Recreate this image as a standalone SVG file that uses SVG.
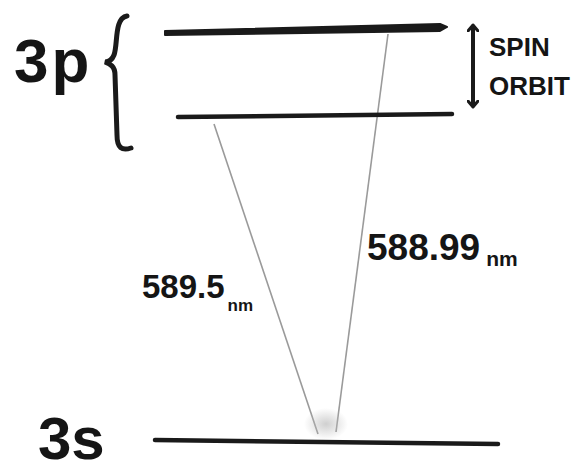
<svg xmlns="http://www.w3.org/2000/svg" width="580" height="475" viewBox="0 0 580 475">
<style>
.lvl{stroke:#1a1a1a;fill:none;stroke-linecap:round}
.ink{fill:#151515;font-family:"Liberation Sans",Arial,sans-serif;font-weight:bold}
.tr{stroke:#9a9a9a;stroke-width:1.6;fill:none}
</style>
<defs>
<marker id="ah" viewBox="0 0 12 12" refX="6" refY="6" markerWidth="12" markerHeight="12" markerUnits="userSpaceOnUse" orient="auto-start-reverse">
<polyline points="1,1 7,6 1,11" fill="none" stroke="#1a1a1a" stroke-width="3" stroke-linecap="round" stroke-linejoin="round"/>
</marker>
<radialGradient id="smudge">
<stop offset="0" stop-color="#bbb" stop-opacity="0.7"/>
<stop offset="1" stop-color="#bbb" stop-opacity="0"/>
</radialGradient>
</defs>
<rect width="580" height="475" fill="#fff"/>

<g id="connectors">
<line class="tr" x1="214" y1="124" x2="318" y2="434"/>
<line class="tr" x1="388" y1="34" x2="336" y2="432"/>
<ellipse cx="326" cy="424" rx="22" ry="16" fill="url(#smudge)"/>
</g>

<g id="level-3p-upper">
<path d="M165,31 L440,24 L447,27 L440,31 L165,35 Z" fill="#1a1a1a" stroke="#1a1a1a" stroke-width="2" stroke-linejoin="round"/>
</g>
<g id="level-3p-lower">
<line class="lvl" x1="178" y1="117" x2="452" y2="114" stroke-width="4.5"/>
</g>
<g id="level-3s">
<line class="lvl" x1="155" y1="440" x2="498" y2="444" stroke-width="4.5"/>
</g>

<g id="label-3p">
<text class="ink" x="14" y="82" font-size="62" letter-spacing="3">3p</text>
<path d="M127,16 C114,18 118,45 114,55 C112,60 108,62 105,62 C110,64 115,66 115,75 L117,135 C117,148 122,151 131,148" class="lvl" stroke-width="5"/>
</g>
<g id="label-3s">
<text class="ink" x="38" y="459" font-size="60">3s</text>
</g>

<g id="spin-orbit">
<line x1="473" y1="26" x2="473" y2="106" stroke="#1a1a1a" stroke-width="4" marker-start="url(#ah)" marker-end="url(#ah)"/>
<text class="ink" x="489" y="56" font-size="26">SPIN</text>
<text class="ink" x="489" y="95" font-size="26">ORBIT</text>
</g>

<g id="label-589-5">
<text class="ink" x="142" y="298" font-size="33">589.5<tspan font-size="17" dx="3" dy="13">nm</tspan></text>
</g>
<g id="label-588-99">
<text class="ink" x="367" y="260" font-size="37">588.99<tspan font-size="21" dx="6" dy="6">nm</tspan></text>
</g>
</svg>
